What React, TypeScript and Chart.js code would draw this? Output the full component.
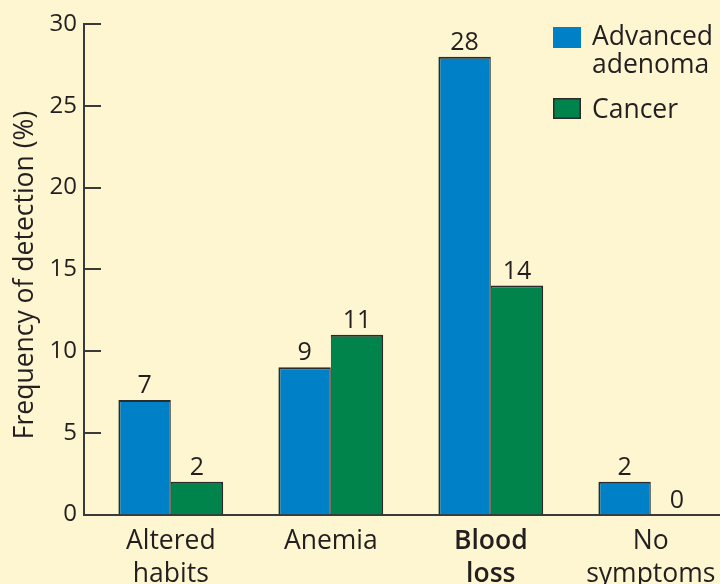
import React, { useEffect, useRef } from "react";
import { Chart, registerables } from "chart.js";

Chart.register(...registerables);

// ---- data ----
const categories: string[][] = [["Altered", "habits"], ["Anemia"], ["Blood", "loss"], ["No", "symptoms"]];
const categoryPositions = [0, 1, 2, 3];
const seriesNames = ["Advanced adenoma", "Cancer"];
const legendLines: string[][] = [["Advanced", "adenoma"], ["Cancer"]];
const advancedAdenoma = [7, 9, 28, 2];
const cancer = [2, 11, 14, 0];
const yTickValues = [0, 5, 10, 15, 20, 25, 30];
const yTitle = "Frequency of detection (%)";
const boldCategory = 2;

// ---- style ----
const BG = "#fef6d0";
const BLUE = "#0080c6";
const GREEN = "#00844c";
const INK = "#231f20";
const EDGE = "#2b2b2b";
const FONT = "'Open Sans', 'Noto Sans', sans-serif";
const TEXT_SIZE = 26.5;

const decorPlugin = {
  id: "decor",
  beforeDraw(chart: any) {
    const { ctx, width, height } = chart;
    ctx.save();
    ctx.fillStyle = BG;
    ctx.fillRect(0, 0, width, height);
    ctx.restore();
  },
  afterDraw(chart: any) {
    const { ctx } = chart;
    const y = chart.scales.y;
    const area = chart.chartArea;
    ctx.save();
    // inward y ticks
    ctx.strokeStyle = "#3a3a3a";
    ctx.lineWidth = 2;
    yTickValues.forEach((v) => {
      const py = Math.round(y.getPixelForValue(v));
      ctx.beginPath();
      ctx.moveTo(area.left, py);
      ctx.lineTo(area.left + 17, py);
      ctx.stroke();
    });
    // value labels
    ctx.fillStyle = INK;
    ctx.font = `25px ${FONT}`;
    ctx.textAlign = "center";
    ctx.textBaseline = "alphabetic";
    chart.data.datasets.forEach((ds: any, di: number) => {
      const meta = chart.getDatasetMeta(di);
      meta.data.forEach((el: any, i: number) => {
        const val = ds.data[i].y;
        ctx.fillText(String(val), el.x, el.y - 7);
      });
    });
    // legend
    const colors = [BLUE, GREEN];
    const boxTops = [27, 98];
    const baselines = [45, 118];
    ctx.font = `${TEXT_SIZE}px ${FONT}`;
    ctx.textAlign = "left";
    legendLines.forEach((lines, i) => {
      ctx.fillStyle = colors[i];
      ctx.fillRect(553, boxTops[i], 28, 21);
      if (i === 1) {
        ctx.strokeStyle = EDGE;
        ctx.lineWidth = 1.5;
        ctx.strokeRect(553.75, boxTops[i] + 0.75, 26.5, 19.5);
      }
      ctx.fillStyle = INK;
      lines.forEach((t, li) => {
        ctx.fillText(t, 592, baselines[i] + li * 28);
      });
    });
    // y title
    ctx.translate(33, 275);
    ctx.rotate(-Math.PI / 2);
    ctx.textAlign = "center";
    ctx.font = `${TEXT_SIZE}px ${FONT}`;
    ctx.fillText(yTitle, 0, 0);
    ctx.restore();
  },
};

export default function App() {
  const ref = useRef<HTMLCanvasElement | null>(null);
  useEffect(() => {
    if (!ref.current) return;
    const mk = (vals: number[]) => categoryPositions.map((x, i) => ({ x, y: vals[i] }));
    const chart = new Chart(ref.current, {
      type: "bar",
      data: {
        datasets: [
          {
            label: seriesNames[0],
            data: mk(advancedAdenoma),
            backgroundColor: BLUE,
            borderColor: EDGE,
            borderWidth: { top: 2, left: 2, right: 1, bottom: 0 },
            borderSkipped: false,
            categoryPercentage: 0.655,
            barPercentage: 1,
          },
          {
            label: seriesNames[1],
            data: mk(cancer),
            backgroundColor: GREEN,
            borderColor: EDGE,
            borderWidth: (c: any) =>
              c.raw && c.raw.y === 0 ? 0 : { top: 2, left: 1, right: 2, bottom: 0 },
            borderSkipped: false,
            categoryPercentage: 0.655,
            barPercentage: 1,
          },
        ] as any,
      },
      options: {
        responsive: false,
        animation: false,
        devicePixelRatio: 1,
        layout: { padding: { top: 24, left: 0, right: 0, bottom: 0 } },
        plugins: { legend: { display: false }, tooltip: { enabled: false } },
        scales: {
          x: {
            type: "linear",
            offset: false,
            min: -0.5425,
            max: 3.4325,
            z: 1,
            grid: { display: false, drawTicks: false, offset: false },
            border: { display: true, color: "#3a3a3a", width: 2 },
            afterBuildTicks: (s: any) => {
              s.ticks = categoryPositions.map((v) => ({ value: v }));
            },
            afterFit: (s: any) => {
              s.height = 69.5;
              s.paddingLeft = 0;
              s.paddingRight = 0;
            },
            ticks: {
              padding: 10,
              autoSkip: false,
              maxRotation: 0,
              minRotation: 0,
              color: INK,
              font: (c: any) => ({
                family: FONT,
                size: TEXT_SIZE,
                lineHeight: 1.26,
                weight: c.tick && c.tick.value === boldCategory ? "600" : "normal",
              }),
              callback: (v: any) => categories[Math.round(v)] ?? "",
            },
          },
          y: {
            min: 0,
            max: 30,
            z: 1,
            grid: { display: false, drawTicks: false },
            border: { display: true, color: "#3a3a3a", width: 2 },
            afterBuildTicks: (s: any) => {
              s.ticks = yTickValues.map((v) => ({ value: v }));
            },
            afterFit: (s: any) => {
              s.width = 84;
            },
            ticks: {
              padding: 7,
              color: INK,
              font: { family: FONT, size: 24 },
            },
          },
        },
      },
      plugins: [decorPlugin],
    } as any);
    return () => chart.destroy();
  }, []);
  return (
    <div style={{ position: "fixed", left: 0, top: 0, width: 720, height: 584, overflow: "hidden", background: BG }}>
      <canvas ref={ref} width={720} height={584} style={{ display: "block" }} />
    </div>
  );
}
